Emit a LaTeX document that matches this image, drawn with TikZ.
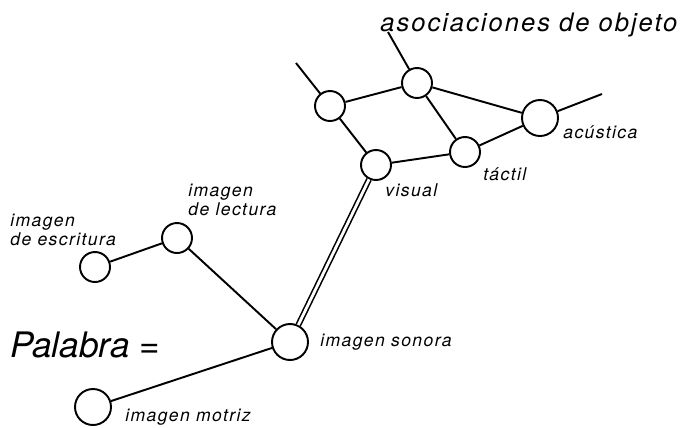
\documentclass[tikz,border=0pt]{standalone}
\usepackage{fontspec}
\setmainfont{TeX Gyre Heros}
\newfontfamily\lblfont[LetterSpace=8]{TeX Gyre Heros}
\usepackage{tikz}
\usetikzlibrary{positioning}

\begin{document}
\begin{tikzpicture}[x=0.02cm, y=-0.02cm,
    knot/.style={circle, draw, line width=1.1pt, fill=white,
        minimum size=0.6cm, inner sep=0pt},
    bigknot/.style={knot, minimum size=0.72cm},
    link/.style={line width=1.1pt},
    dbl/.style={line width=0.9pt, double, double distance=1.6pt},
    lbl/.style={font=\lblfont\itshape\fontsize{10}{11}\selectfont, inner sep=0pt,
        align=left, anchor=west}
]
    \useasboundingbox (0,0) rectangle (686,427);

    % Object associations
    \node[knot] (corner) at (330,106) {};
    \node[knot] (top) at (417,83) {};
    \node[bigknot] (acu) at (540,118) {};
    \node[knot] (tac) at (465,152) {};
    \node[knot] (vis) at (376,165) {};

    % Free ends
    \coordinate (cornerend) at (296,63);
    \coordinate (topend) at (388,32);
    \coordinate (acuend) at (602,94);

    % Word images
    \node[knot] (lec) at (177,238) {};
    \node[knot] (esc) at (95,267) {};
    \node[bigknot] (son) at (290,342) {};
    \node[bigknot] (mot) at (93,407) {};

    % Connectors
    \draw[link] (cornerend) -- (corner);
    \draw[link] (topend) -- (top);
    \draw[link] (acu) -- (acuend);
    \draw[link] (corner) -- (top);
    \draw[link] (corner) -- (vis);
    \draw[link] (top) -- (acu);
    \draw[link] (top) -- (tac);
    \draw[link] (vis) -- (tac);
    \draw[link] (tac) -- (acu);
    \draw[link] (esc) -- (lec);
    \draw[link] (lec) -- (son);
    \draw[link] (son) -- (mot);
    \draw[dbl] (vis) -- (son);

    % Labels
    \node[font=\lblfont\itshape\fontsize{14.5}{16}\selectfont, anchor=west, inner sep=0pt]
        (title) at (380,25) {asociaciones de objeto};
    \node[lbl] (acul) at (563,132) {acústica};
    \node[lbl] (tacl) at (483,174) {táctil};
    \node[lbl] (visl) at (385,190) {visual};
    \node[lbl] (lecl) at (188,200) {imagen\\de lectura};
    \node[lbl] (escl) at (10,230) {imagen\\de escritura};
    \node[lbl] (sonl) at (320,342) {imagen sonora};
    \node[lbl] (motl) at (125,417) {imagen motriz};
    \node[font=\itshape\fontsize{20}{22}\selectfont, anchor=west, inner sep=0pt]
        (word) at (10,345) {Palabra =};
\end{tikzpicture}
\end{document}
